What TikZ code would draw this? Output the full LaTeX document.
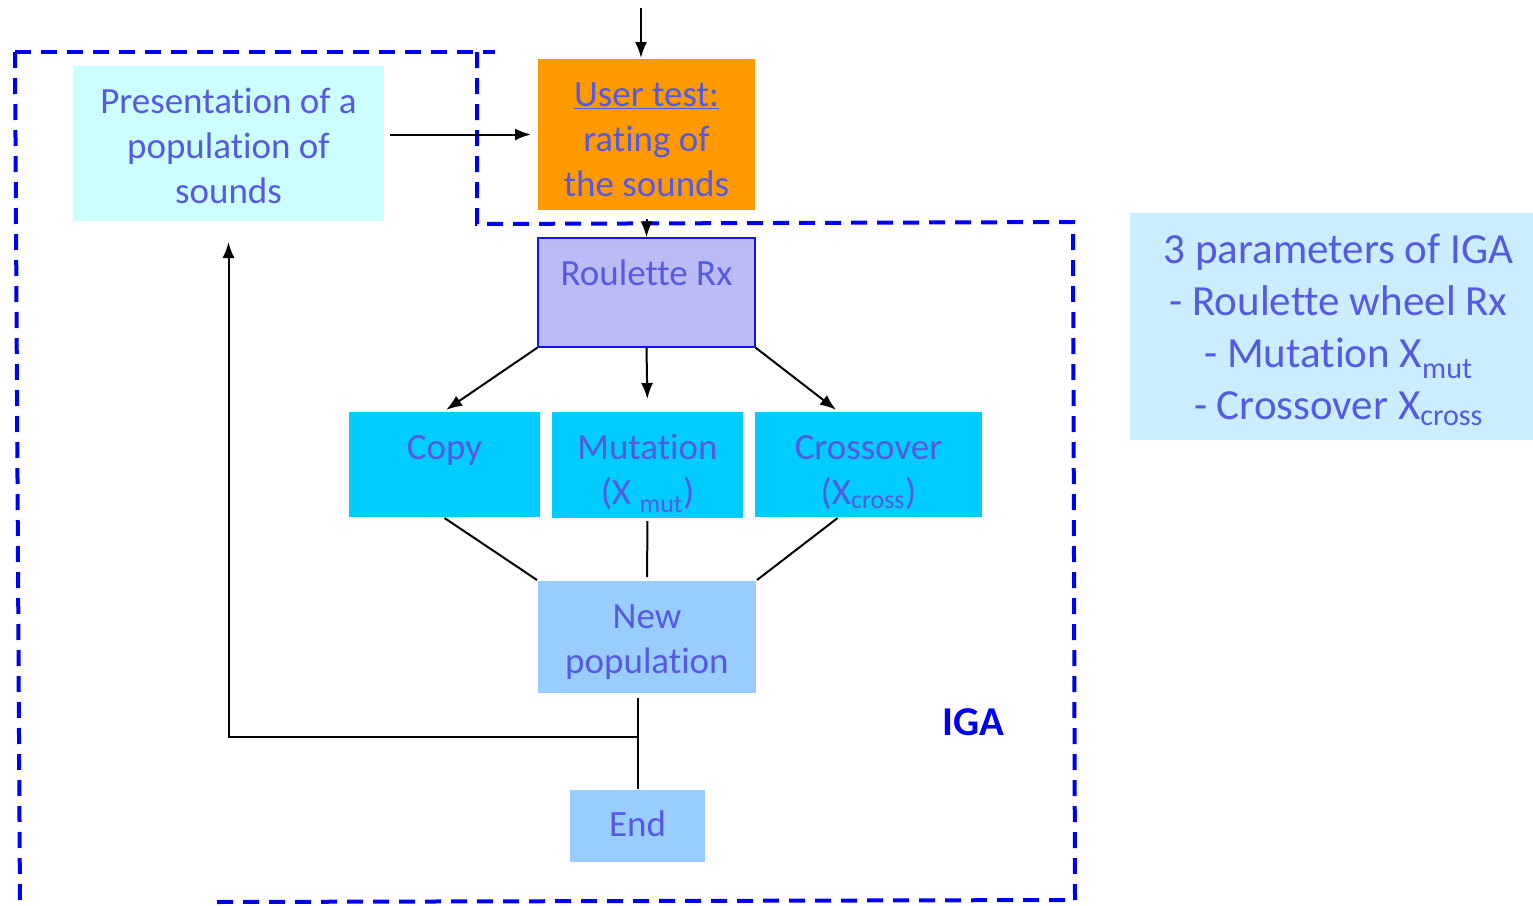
\documentclass[tikz,border=0pt]{standalone}
\usepackage{fontspec}
\setmainfont[Ligatures=NoCommon]{Carlito}
\usepackage{xcolor}
\usetikzlibrary{arrows.meta, positioning}

\definecolor{txtblue}{RGB}{85,90,225}
\definecolor{frameblue}{RGB}{0,0,240}
\definecolor{presfill}{RGB}{204,255,255}
\definecolor{userfill}{RGB}{255,153,0}
\definecolor{roulfill}{RGB}{187,187,245}
\definecolor{roulline}{RGB}{20,20,230}
\definecolor{opfill}{RGB}{0,204,255}
\definecolor{popfill}{RGB}{153,204,255}
\definecolor{parfill}{RGB}{204,236,255}

% centred lines, lowered inside the box without changing its size
\newcommand{\boxlines}[2][-6pt]{\raisebox{#1}[\height][\depth]{\begin{tabular}{@{}c@{}}#2\end{tabular}}}

\begin{document}
\begin{tikzpicture}[x=1pt,y=-1pt,line width=2pt,>={Latex[length=16pt,width=12pt]}]
  \tikzstyle{box}=[rectangle, inner sep=0pt, text=txtblue, font=\fontsize{37}{45}\selectfont]
  \tikzstyle{frame}=[draw=frameblue, line width=4pt, dash pattern=on 16pt off 10pt]

  \useasboundingbox (0,0) rectangle (1533,905);

  % IGA frame
  \draw[frame] (15,52) -- (495,52);
  \draw[frame] (15,52) -- (20,905);
  \draw[frame] (477,52) -- (477,224) -- (1073,222) -- (1075,900) -- (215,902);

  \node[box, fill=presfill, minimum width=311pt, minimum height=155pt] (pres) at (228.5,143.5)
    {\boxlines{Presentation of a\\population of\\sounds}};
  \node[box, fill=userfill, minimum width=217pt, minimum height=151pt] (user) at (646.5,134.5)
    {\boxlines[-8pt]{\underline{User test:}\\rating of\\the sounds}};
  \node[box, fill=roulfill, draw=roulline, line width=1.5pt, minimum width=217pt, minimum height=109pt]
    (roul) at (646.5,292.5) {\boxlines{Roulette Rx\\\strut}};
  \node[box, fill=opfill, minimum width=191pt, minimum height=105pt] (copy) at (444.5,464.5)
    {\boxlines[-8pt]{Copy\\\strut}};
  \node[box, fill=opfill, minimum width=191pt, minimum height=106pt] (mut) at (647.5,465)
    {\boxlines[-8pt]{Mutation\\(X \textsubscript{mut})}};
  \node[box, fill=opfill, minimum width=227pt, minimum height=105pt] (cross) at (868.5,464.5)
    {\boxlines[-8pt]{Crossover\\(X\textsubscript{cross})}};
  \node[box, fill=popfill, minimum width=218pt, minimum height=112pt] (pop) at (647,637)
    {\boxlines[-5pt]{New\\population}};
  \node[box, fill=popfill, minimum width=135pt, minimum height=72pt] (end) at (637.5,826)
    {\boxlines[-1pt]{End}};

  \node[box, fill=parfill, minimum width=403pt, minimum height=227pt,
    font=\fontsize{43}{52}\selectfont] (par) at (1331.5,326.5)
    {\hspace*{14pt}\boxlines[-5pt]{3 parameters of IGA\\- Roulette wheel Rx\\- Mutation X\textsubscript{mut}\\- Crossover X\textsubscript{cross}}};
  \node[text=frameblue, font=\bfseries\fontsize{41}{45}\selectfont] (iga) at (973,722) {IGA};

  \coordinate (top) at (641,8);
  \coordinate (branch) at (end.north |- 0,737);

  \draw[->] (top) -- (top |- user.north);
  \draw[->, shorten <=5pt, shorten >=6pt] (pres.east |- user) -- (user.west);
  \draw[->, shorten <=8pt] (user.south) -- (roul.north);
  \draw[->, shorten >=2pt] (roul.south west) -- (copy.north);
  \draw[->, shorten >=12pt] (roul.south) -- (mut.north);
  \draw[->, shorten >=2pt] (roul.south east) -- (cross.120);

  \draw (copy.south) -- (pop.north west);
  \draw[shorten <=2pt, shorten >=3pt] (mut.south) -- (pop.north);
  \draw (cross.240) -- (pop.north east);
  \draw[shorten >=4pt] (end.north) -- (end.north |- pop.south);
  \draw[->, shorten >=20pt] (branch) -| (pres.south);
\end{tikzpicture}
\end{document}
